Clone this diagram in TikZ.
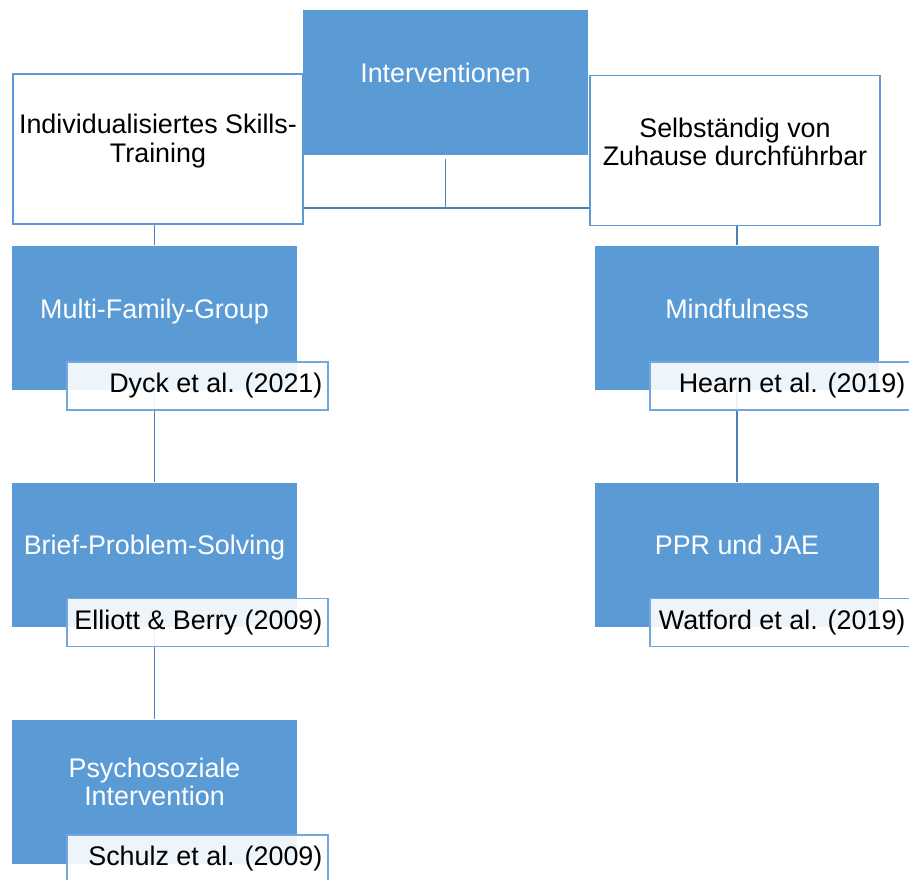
\documentclass[tikz,border=0pt]{standalone}
\usepackage{fontspec}
\setmainfont{Liberation Sans}
\definecolor{boxblue}{HTML}{5B9BD5}
\definecolor{lineblue}{HTML}{4C80B8}
\definecolor{labelblue}{HTML}{74A7DB}
\tikzset{
  bluebox/.style={rectangle, fill=boxblue, minimum width=5.7cm, minimum height=2.9cm, inner sep=0pt},
  whitebox/.style={rectangle, draw=boxblue, line width=1.1pt, fill=white, minimum width=5.8cm, minimum height=3cm, inner sep=0pt},
  boxtext/.style={align=center, font=\fontsize{15.3}{16}\selectfont, inner sep=0pt},
  reflabel/.style={rectangle, draw=labelblue, line width=0.9pt, fill=white, fill opacity=0.9, text opacity=1,
    minimum width=5.22cm, minimum height=0.96cm, inner sep=0pt, font=\fontsize{15.3}{16}\selectfont},
  conn/.style={draw=lineblue, line width=1.1pt}
}
\begin{document}
\begin{tikzpicture}[x=0.02cm, y=-0.02cm]
  \useasboundingbox (0,0) rectangle (909,879);

  % Oberste Ebene
  \node[whitebox] (skills) at (158,149) {};
  \node[whitebox] (selbst) at (735,150.5) {};
  \node[bluebox] (interv) at (445.5,82.5) {};
  \node[boxtext, text=white] (interv-t) at ([yshift=0.2cm]interv.center) {Interventionen};
  \node[boxtext] (skills-t) at ([yshift=0.16cm]skills.center) {Individualisiertes Skills-\\Training};
  \node[boxtext] (selbst-t) at ([yshift=0.18cm]selbst.center) {Selbständig von\\Zuhause durchführbar};

  % Verbindungen oben
  \coordinate (knick) at (445.5,208);
  \draw[conn] ([yshift=-0.08cm]interv.south) -- (knick);
  \draw[conn] (skills.east |- knick) -- (selbst.west |- knick);

  % Interventionen links und rechts
  \node[bluebox] (mfg) at (154.5,318) {};
  \node[bluebox] (brief) at (154.5,555) {};
  \node[bluebox] (psych) at (154.5,792) {};
  \node[bluebox] (mind) at (737,318) {};
  \node[bluebox] (ppr) at (737,555) {};

  % Linien (unter den Quellen)
  \draw[conn] (mfg.north) -- (mfg.north |- skills.south);
  \draw[conn] (mfg.south) -- (brief.north);
  \draw[conn] (brief.south) -- (psych.north);
  \draw[conn] (mind.north) -- (mind.north |- selbst.south);
  \draw[conn] (mind.south) -- (ppr.north);

  % Texte
  \node[boxtext, text=white] (mfg-t) at ([yshift=0.12cm]mfg.center) {Multi-Family-Group};
  \node[boxtext, text=white] (brief-t) at ([yshift=0.14cm]brief.center) {Brief-Problem-Solving};
  \node[boxtext, text=white] (psych-t) at ([yshift=0.2cm]psych.center) {Psychosoziale\\Intervention};
  \node[boxtext, text=white] (mind-t) at ([yshift=0.18cm]mind.center) {Mindfulness};
  \node[boxtext, text=white] (ppr-t) at ([yshift=0.2cm]ppr.center) {PPR und JAE};

  % Quellen
  \node[reflabel] (dyck) at (197.5,386) {};
  \node[reflabel] (elliott) at (197.5,622.5) {};
  \node[reflabel] (schulz) at (197.5,859) {};
  \node[reflabel] (hearn) at (780.5,386) {};
  \node[reflabel] (watford) at (780.5,622.5) {};
  \node[boxtext, anchor=east] (dyck-t) at ([xshift=-0.12cm]dyck.east) {Dyck et al. (2021)};
  \node[boxtext, anchor=east] (elliott-t) at ([xshift=-0.12cm]elliott.east) {Elliott \& Berry (2009)};
  \node[boxtext, anchor=east] (schulz-t) at ([xshift=-0.12cm]schulz.east) {Schulz et al. (2009)};
  \node[boxtext, anchor=east] (hearn-t) at ([xshift=-0.12cm]hearn.east) {Hearn et al. (2019)};
  \node[boxtext, anchor=east] (watford-t) at ([xshift=-0.12cm]watford.east) {Watford et al. (2019)};
\end{tikzpicture}
\end{document}
